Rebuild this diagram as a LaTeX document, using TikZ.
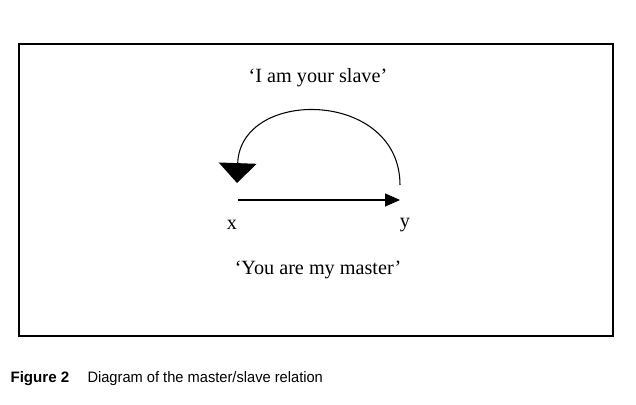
\documentclass[tikz,border=0pt]{standalone}
\usepackage{fontspec}
\setmainfont{Liberation Serif}
\setsansfont{Liberation Sans}
\usetikzlibrary{arrows.meta}

\begin{document}
\begin{tikzpicture}[x=0.02cm,y=0.02cm,>={Triangle[length=8.5pt,width=7.4pt]},line width=0.6pt,
  said/.style={font=\fontsize{11.5}{13}\selectfont},
  letter/.style={font=\fontsize{11.5}{13}\selectfont,inner sep=0pt},
  capt/.style={font=\sffamily\fontsize{8.6}{10}\selectfont,inner sep=0pt,anchor=base west}]
\useasboundingbox (0,0) rectangle (636,405);
\draw[line width=1.2pt] (19,69) rectangle (613,361);
\node[said] (slave) at (318,327) {‘I am your slave’};
\node[said] (master) at (318,135) {‘You are my master’};
\coordinate (xpt) at (238,205);
\coordinate (ypt) at (400,205);
\coordinate (ytop) at (400,220);
\coordinate (xtop) at (237,222);
\draw[->] (xpt) -- (ypt);
\draw[-{Triangle[length=11.3pt,width=21.5pt]}] (ytop) to[out=90,in=88,looseness=1.5] (xtop);
\node[letter] (x) at (232,180) {x};
\node[letter] (y) at (405,180) {y};
\node[capt] (fig) at (10,22) {\textbf{Figure 2}};
\node[capt,xscale=0.97] (cap) at (87,22) {Diagram of the master/slave relation};
\end{tikzpicture}
\end{document}
